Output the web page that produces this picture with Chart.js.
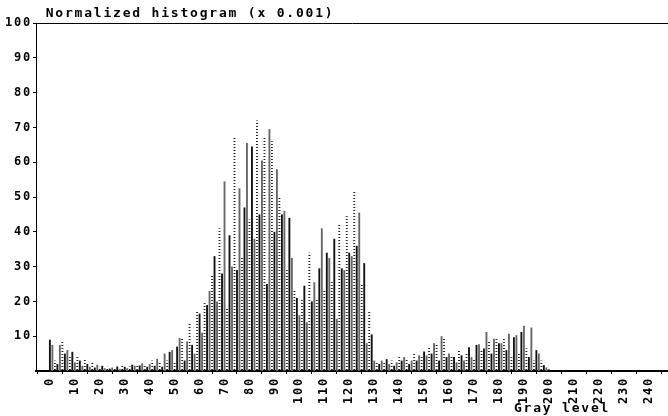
<!DOCTYPE html>
<html lang="en">
<head>
    <meta charset="UTF-8">
    <title>Normalized histogram</title>
    <script src="https://cdn.jsdelivr.net/npm/chart.js"></script>
    <style>
        body {
            margin: 0;
            background: #fff;
        }
        #wrap {
            width: 668px;
            height: 416px;
        }
    </style>
</head>
<body>
    <div id="wrap"><canvas id="histChart"></canvas></div>

    <script>
        // histogram values (x 0.001), one per gray level starting at 0
        var frequencies = [
            9, 7.5, 3, 2, 7.5, 8.5, 5, 6, 4, 5.5,
            2.5, 4.5, 3, 1.5, 3.5, 2, 1.2, 2.5, 1, 1.8,
            1.2, 1.5, 0.8, 1.2, 0.7, 1, 0.8, 1.3, 0.6, 1.4,
            1.2, 0.8, 1.3, 1.8, 1.5, 2, 1.6, 2.2, 1.8, 1.2,
            2, 3, 1.5, 3.5, 2.5, 1.2, 5, 3, 5.5, 6,
            2.5, 7, 9.5, 9.2, 3, 8.5, 14, 7.5, 5, 17,
            16.5, 11, 19.5, 19, 23, 27.5, 33, 20, 41, 28,
            54.5, 18, 39, 30, 67.5, 29, 52.5, 32.5, 47, 65.5,
            43.5, 64.5, 38, 72, 45, 60.5, 67, 25, 69.5, 66,
            40, 58, 50, 45, 46, 29, 44, 32.5, 23, 21,
            16, 20.5, 24.5, 14, 34, 20, 25.5, 21, 29.5, 41,
            23, 34, 32.5, 26, 38, 15, 42, 29.5, 29, 44.5,
            34, 33, 52, 36, 45.5, 25, 31, 8, 17, 10.5,
            3, 2.5, 2, 3, 2.5, 3.4, 2, 3, 1.5, 2.5,
            4, 3, 4, 3.5, 2, 3, 5.2, 3, 4.5, 4,
            5.6, 4.5, 7.2, 5, 8, 7.5, 3, 10, 9.5, 4,
            5, 4.5, 4, 2.5, 6, 4.5, 3, 5, 6.8, 4,
            3.5, 7.5, 7.7, 6, 6.5, 11.2, 8.7, 5, 9.3, 9.3,
            8, 8, 9.3, 6, 10.7, 4, 9.7, 10.3, 5, 11.2,
            13, 6.5, 4, 12.5, 3, 6, 5, 3, 1.7, 1,
            0.5
        ];
        var grayLevels = frequencies.map(function (v, i) { return i; });
        var xTickValues = [0, 10, 20, 30, 40, 50, 60, 70, 80, 90, 100, 110, 120,
                           130, 140, 150, 160, 170, 180, 190, 200, 210, 220, 230, 240];
        var yTickValues = [10, 20, 30, 40, 50, 60, 70, 80, 90, 100];

        var mono = "'DejaVu Sans Mono', 'Liberation Mono', monospace";
        var labelFont = { family: mono, size: 12, weight: 'bold' };

        var canvas = document.getElementById('histChart');
        var ctx = canvas.getContext('2d');

        // dotted fill for the light bars
        var dot = document.createElement('canvas');
        dot.width = 2;
        dot.height = 3;
        var dctx = dot.getContext('2d');
        dctx.fillStyle = '#222';
        dctx.fillRect(0, 0, 2, 1);
        var dotted = ctx.createPattern(dot, 'repeat');
        var barStyles = ['#111111', '#666666', dotted];

        var points = grayLevels.map(function (g, i) {
            return { x: g, y: frequencies[i] };
        });

        // the old bitmap font is wide, so space the letters out a bit
        var wideText = {
            id: 'wideText',
            beforeDraw: function (chart) {
                chart.ctx.letterSpacing = '1.8px';
            }
        };

        new Chart(ctx, {
            type: 'bar',
            data: {
                datasets: [{
                    data: points,
                    backgroundColor: function (c) { return barStyles[c.dataIndex % 3]; },
                    borderWidth: 0,
                    barPercentage: 0.75,
                    categoryPercentage: 1
                }]
            },
            options: {
                animation: false,
                responsive: true,
                maintainAspectRatio: false,
                layout: { padding: 0 },
                plugins: {
                    legend: { display: false },
                    tooltip: { enabled: false },
                    title: {
                        display: true,
                        text: ' Normalized histogram (x 0.001)',
                        align: 'start',
                        fullSize: false,
                        color: '#000',
                        font: { family: mono, size: 13, weight: 'bold', lineHeight: 1 },
                        padding: { top: 7, bottom: 3 }
                    }
                },
                scales: {
                    x: {
                        type: 'linear',
                        min: -0.5,
                        max: 242.7,
                        afterBuildTicks: function (axis) {
                            axis.ticks = xTickValues.map(function (v) { return { value: v }; });
                        },
                        afterFit: function (axis) { axis.height = 45; },
                        ticks: {
                            autoSkip: false,
                            minRotation: 90,
                            maxRotation: 90,
                            color: '#000',
                            font: labelFont,
                            padding: 3
                        },
                        grid: { drawOnChartArea: false, tickLength: 3, color: '#000' },
                        border: { display: true, color: '#000', width: 2 },
                        title: {
                            display: true,
                            text: 'Gray level      ',
                            align: 'end',
                            color: '#000',
                            font: { family: mono, size: 13, weight: 'bold' },
                            padding: { top: 0, bottom: 0 }
                        }
                    },
                    top: {
                        type: 'linear',
                        position: 'top',
                        min: -0.5,
                        max: 242.7,
                        ticks: { display: false },
                        grid: { display: false, drawTicks: false },
                        border: { display: true, color: '#000', width: 1 }
                    },
                    y: {
                        min: 0,
                        max: 100,
                        afterBuildTicks: function (axis) {
                            axis.ticks = yTickValues.map(function (v) { return { value: v }; });
                        },
                        afterFit: function (axis) { axis.width = 36; },
                        ticks: {
                            color: '#000',
                            font: labelFont,
                            padding: 1
                        },
                        grid: { drawOnChartArea: false, tickLength: 3, color: '#000' },
                        border: { display: true, color: '#000', width: 1 }
                    }
                }
            },
            plugins: [wideText]
        });
    </script>
</body>
</html>
